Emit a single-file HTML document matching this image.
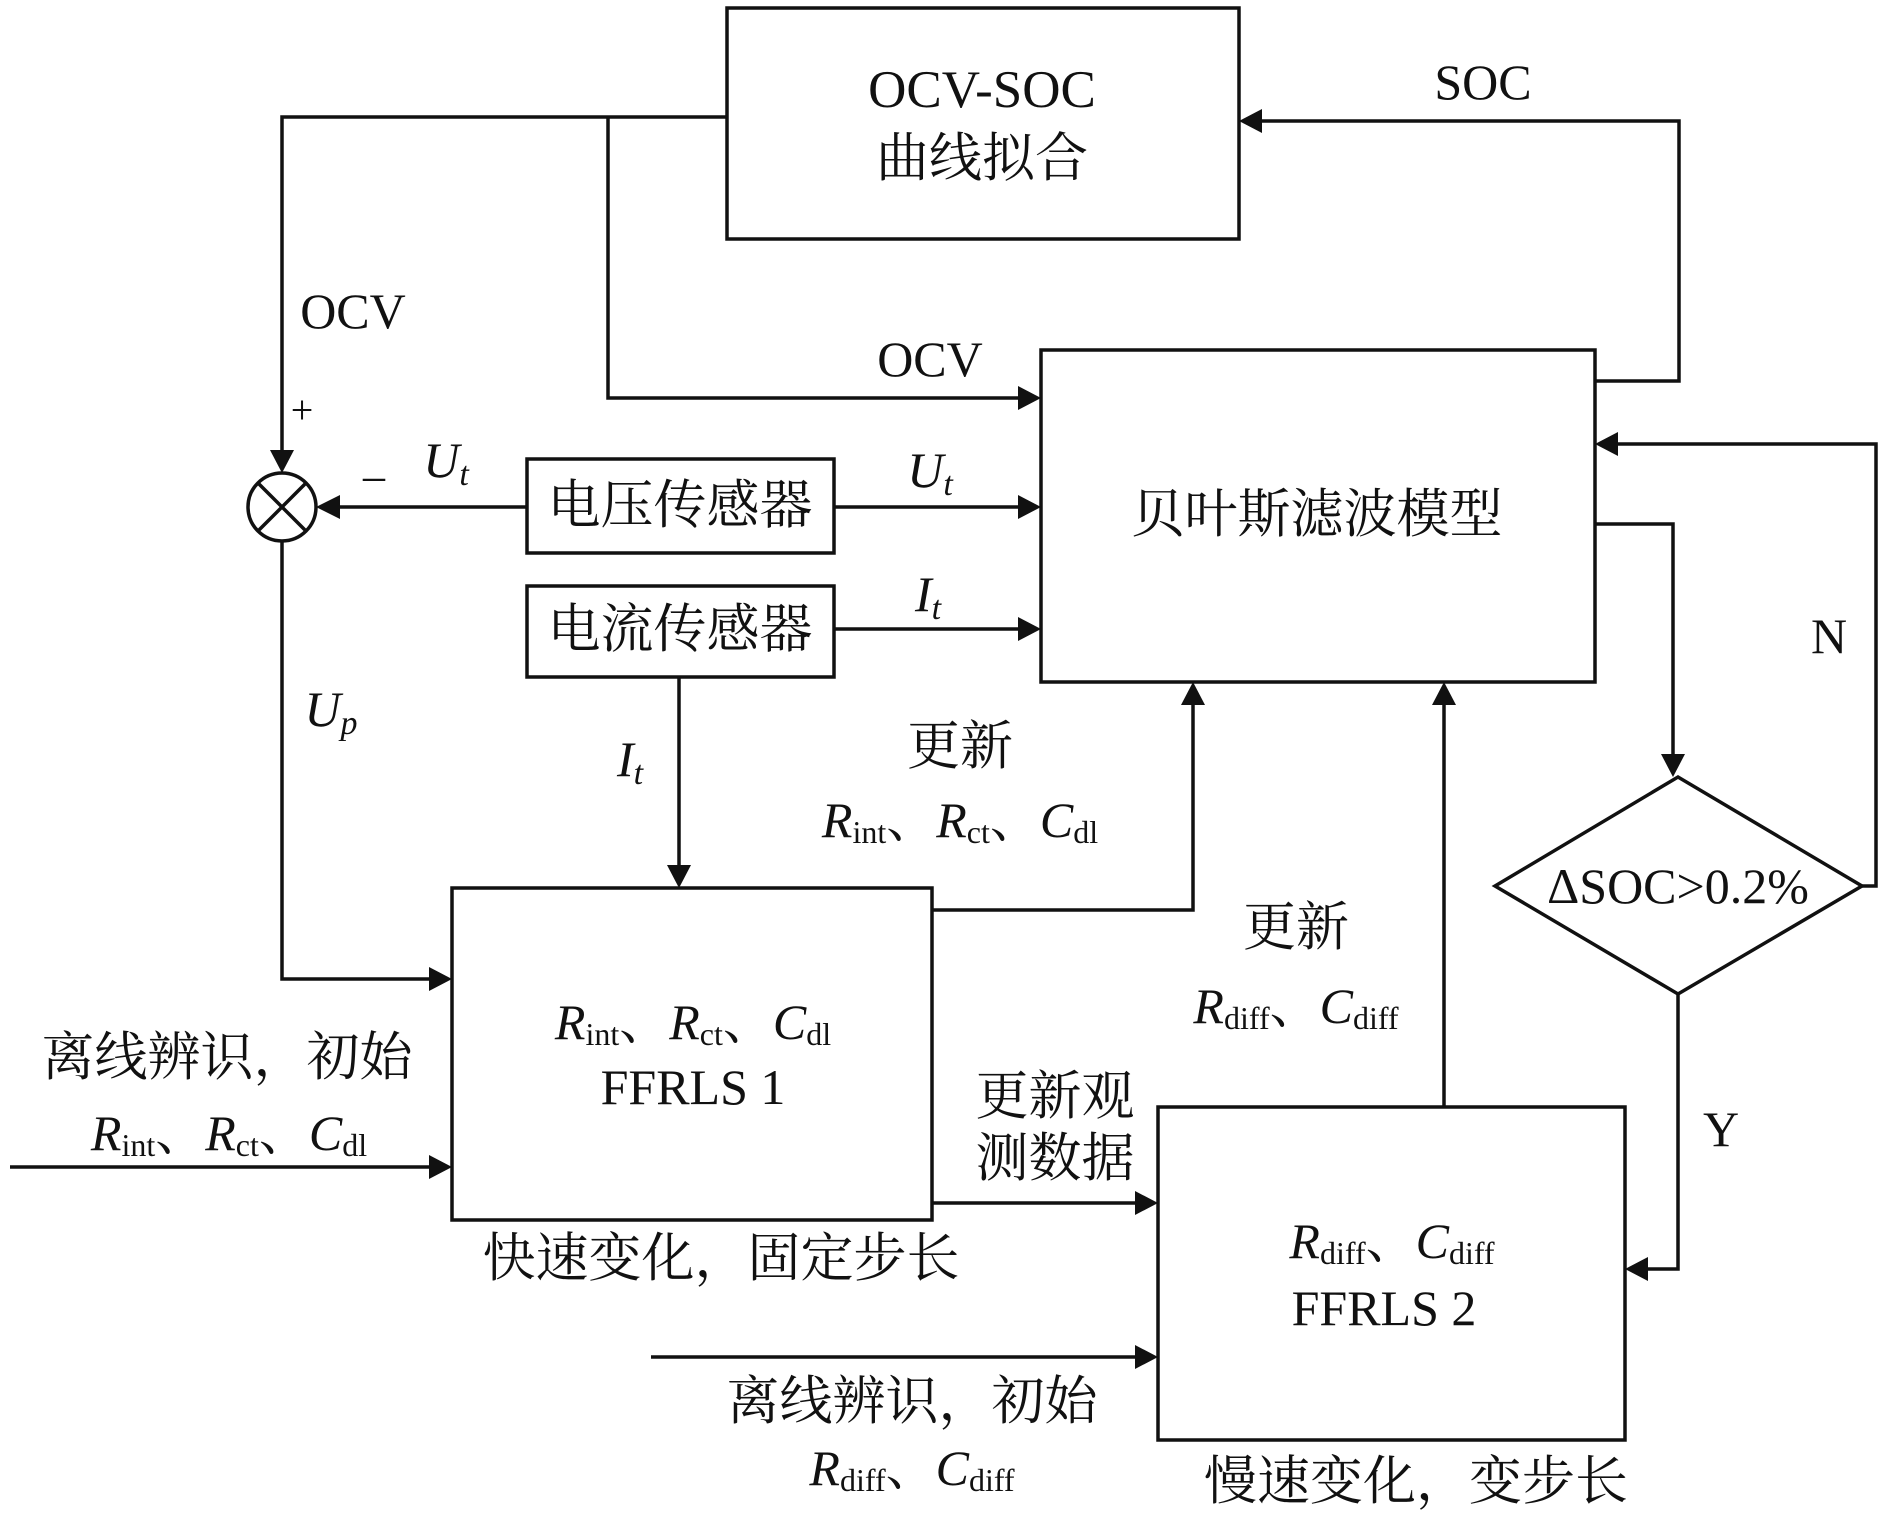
<!DOCTYPE html>
<html><head><meta charset="utf-8"><style>
html,body{margin:0;padding:0;background:#fff;}
svg{display:block;}
text{font-family:"Liberation Serif","Noto Serif CJK SC",serif;fill:#111;}
</style></head><body>
<svg width="1890" height="1519" viewBox="0 0 1890 1519" xmlns="http://www.w3.org/2000/svg">
<defs>
<marker id="a" viewBox="0 0 10 10" refX="10" refY="5" markerWidth="8" markerHeight="8" markerUnits="userSpaceOnUse" orient="auto">
</marker>
</defs>
<g fill="none" stroke="#111" stroke-width="3.5">
<rect x="727" y="8" width="512" height="231"/>
<rect x="1041" y="350" width="554" height="332"/>
<rect x="527" y="459" width="307" height="94"/>
<rect x="527" y="586" width="307" height="91"/>
<rect x="452" y="888" width="480" height="332"/>
<rect x="1158" y="1107" width="467" height="333"/>
<polygon points="1495,886 1678,777 1862,886 1678,994"/>
<circle cx="282" cy="507" r="34"/>
<line x1="258" y1="483" x2="306" y2="531"/><line x1="306" y1="483" x2="258" y2="531"/>
<!-- lines -->
<polyline points="727,117 282,117 282,450"/>
<polyline points="608,117 608,398 1020,398"/>
<polyline points="1595,381 1679,381 1679,121 1262,121"/>
<polyline points="1595,524 1673,524 1673,756"/>
<polyline points="1862,886 1876,886 1876,444 1618,444"/>
<polyline points="1678,994 1678,1269 1648,1269"/>
<line x1="527" y1="507" x2="340" y2="507"/>
<line x1="834" y1="507" x2="1020" y2="507"/>
<line x1="834" y1="629" x2="1020" y2="629"/>
<line x1="679" y1="677" x2="679" y2="866"/>
<polyline points="282,541 282,979 430,979"/>
<polyline points="932,910 1193,910 1193,704"/>
<line x1="1444" y1="1107" x2="1444" y2="704"/>
<line x1="932" y1="1203" x2="1136" y2="1203"/>
<line x1="10" y1="1167" x2="430" y2="1167"/>
<line x1="651" y1="1357" x2="1136" y2="1357"/>
</g>
<g fill="#111">
<polygon points="270,450 294,450 282,473"/>
<polygon points="1018,386 1018,410 1041,398"/>
<polygon points="1262,109 1262,133 1239,121"/>
<polygon points="1661,754 1685,754 1673,777"/>
<polygon points="1618,432 1618,456 1595,444"/>
<polygon points="1648,1257 1648,1281 1625,1269"/>
<polygon points="340,495 340,519 316,507"/>
<polygon points="1018,495 1018,519 1041,507"/>
<polygon points="1018,617 1018,641 1041,629"/>
<polygon points="667,865 691,865 679,888"/>
<polygon points="429,967 429,991 452,979"/>
<polygon points="1181,705 1205,705 1193,682"/>
<polygon points="1432,705 1456,705 1444,682"/>
<polygon points="1135,1191 1135,1215 1158,1203"/>
<polygon points="429,1155 429,1179 452,1167"/>
<polygon points="1135,1345 1135,1369 1158,1357"/>
</g>
<g font-size="53" text-anchor="middle" dominant-baseline="central">
<text x="982" y="90">OCV-SOC</text>
<text x="982" y="159">曲线拟合</text>
<text x="1483" y="82" font-size="50">SOC</text>
<text x="353" y="311" font-size="50">OCV</text>
<text x="302" y="410" font-size="40">+</text>
<text x="374" y="476" font-size="44">–</text>
<text x="446" y="460" font-style="italic" font-size="50">U<tspan font-size="34" dy="14">t</tspan></text>
<text x="930" y="359" font-size="50">OCV</text>
<text x="930" y="470" font-style="italic" font-size="50">U<tspan font-size="34" dy="14">t</tspan></text>
<text x="928" y="594" font-style="italic" font-size="50">I<tspan font-size="34" dy="14">t</tspan></text>
<text x="680" y="506">电压传感器</text>
<text x="680" y="630">电流传感器</text>
<text x="1317" y="515">贝叶斯滤波模型</text>
<text x="1829" y="636" font-size="50">N</text>
<text x="1678" y="886" font-size="50">ΔSOC&gt;0.2%</text>
<text x="1721" y="1129" font-size="50">Y</text>
<text x="331" y="709" font-style="italic" font-size="50">U<tspan font-size="34" dy="14">p</tspan></text>
<text x="630" y="759" font-style="italic" font-size="50">I<tspan font-size="34" dy="14">t</tspan></text>
<text x="960" y="747">更新</text>
<text x="960" y="820" font-size="50"><tspan font-style="italic">R</tspan><tspan font-size="32" dy="12">int</tspan><tspan dy="-12">、</tspan><tspan font-style="italic">R</tspan><tspan font-size="32" dy="12">ct</tspan><tspan dy="-12">、</tspan><tspan font-style="italic">C</tspan><tspan font-size="32" dy="12">dl</tspan></text>
<text x="1296" y="928">更新</text>
<text x="1296" y="1006" font-size="50"><tspan font-style="italic">R</tspan><tspan font-size="32" dy="12">diff</tspan><tspan dy="-12">、</tspan><tspan font-style="italic">C</tspan><tspan font-size="32" dy="12">diff</tspan></text>
<text x="693" y="1022" font-size="50"><tspan font-style="italic">R</tspan><tspan font-size="32" dy="12">int</tspan><tspan dy="-12">、</tspan><tspan font-style="italic">R</tspan><tspan font-size="32" dy="12">ct</tspan><tspan dy="-12">、</tspan><tspan font-style="italic">C</tspan><tspan font-size="32" dy="12">dl</tspan></text>
<text x="693" y="1087" font-family="Liberation Sans" font-size="50">FFRLS 1</text>
<text x="227" y="1058">离线辨识，初始</text>
<text x="229" y="1133" font-size="50"><tspan font-style="italic">R</tspan><tspan font-size="32" dy="12">int</tspan><tspan dy="-12">、</tspan><tspan font-style="italic">R</tspan><tspan font-size="32" dy="12">ct</tspan><tspan dy="-12">、</tspan><tspan font-style="italic">C</tspan><tspan font-size="32" dy="12">dl</tspan></text>
<text x="1055" y="1097">更新观</text>
<text x="1055" y="1159">测数据</text>
<text x="721" y="1259">快速变化，固定步长</text>
<text x="1392" y="1241" font-size="50"><tspan font-style="italic">R</tspan><tspan font-size="32" dy="12">diff</tspan><tspan dy="-12">、</tspan><tspan font-style="italic">C</tspan><tspan font-size="32" dy="12">diff</tspan></text>
<text x="1384" y="1308" font-family="Liberation Sans" font-size="50">FFRLS 2</text>
<text x="912" y="1402">离线辨识，初始</text>
<text x="912" y="1468" font-size="50"><tspan font-style="italic">R</tspan><tspan font-size="32" dy="12">diff</tspan><tspan dy="-12">、</tspan><tspan font-style="italic">C</tspan><tspan font-size="32" dy="12">diff</tspan></text>
<text x="1416" y="1482">慢速变化，变步长</text>
</g>
</svg>
</body></html>
